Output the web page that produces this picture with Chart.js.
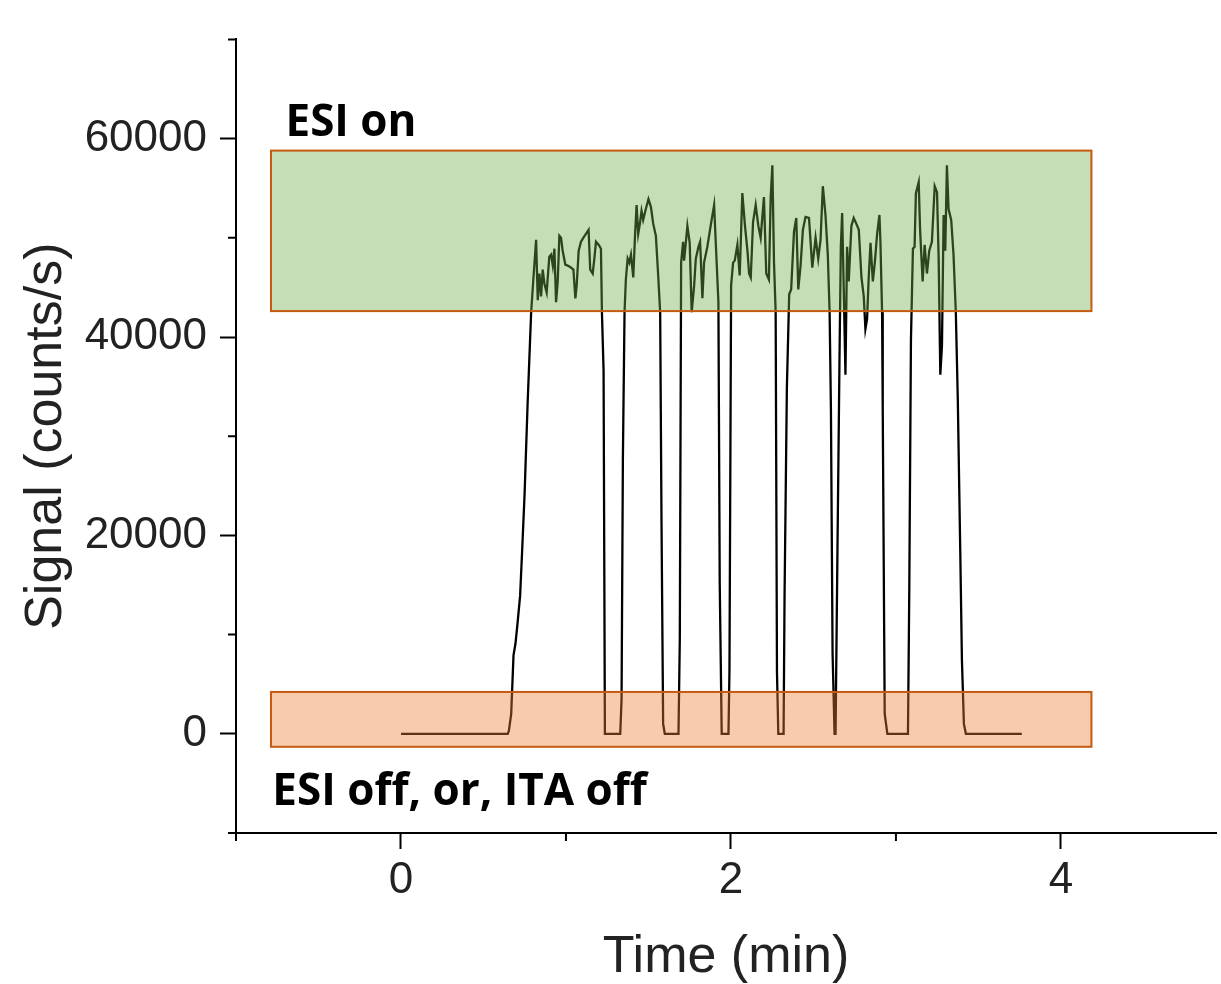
<!DOCTYPE html>
<html>
<head>
<meta charset="utf-8">
<script src="https://cdn.jsdelivr.net/npm/chart.js@4"></script>
<style>
  body { margin: 0; background: #fff; }
  #wrap { width: 1221px; height: 984px; }
</style>
</head>
<body>
<div id="wrap"><canvas id="chart"></canvas></div>
<script>
// signal trace (time in min, counts/s)
const timeMin = [
  0.000, 0.647, 0.654, 0.668, 0.682, 0.694, 0.708, 0.722, 0.734, 0.749, 0.768, 0.789, 0.803,
  0.819, 0.829, 0.839, 0.849, 0.859, 0.869, 0.883, 0.899, 0.910, 0.920, 0.930, 0.940, 0.950,
  0.960, 0.970, 0.980, 0.996, 1.010, 1.030, 1.045, 1.057, 1.065, 1.077, 1.091, 1.105, 1.121,
  1.137, 1.147, 1.162, 1.172, 1.182, 1.198, 1.212, 1.218, 1.228, 1.236, 1.329, 1.337, 1.345,
  1.355, 1.363, 1.374, 1.384, 1.394, 1.408, 1.418, 1.428, 1.438, 1.448, 1.458, 1.468, 1.484,
  1.500, 1.515, 1.529, 1.545, 1.559, 1.571, 1.579, 1.589, 1.599, 1.682, 1.690, 1.698, 1.710,
  1.716, 1.736, 1.750, 1.762, 1.777, 1.787, 1.803, 1.813, 1.827, 1.837, 1.857, 1.877, 1.898,
  1.908, 1.924, 1.932, 1.944, 1.985, 1.991, 2.001, 2.013, 2.023, 2.039, 2.053, 2.069, 2.085,
  2.100, 2.110, 2.120, 2.134, 2.150, 2.166, 2.180, 2.200, 2.214, 2.230, 2.241, 2.251, 2.261,
  2.271, 2.279, 2.287, 2.319, 2.325, 2.339, 2.353, 2.365, 2.382, 2.396, 2.408, 2.422, 2.436,
  2.452, 2.473, 2.493, 2.513, 2.529, 2.543, 2.557, 2.573, 2.587, 2.598, 2.606, 2.616, 2.628,
  2.634, 2.646, 2.658, 2.666, 2.674, 2.684, 2.694, 2.704, 2.714, 2.730, 2.744, 2.755, 2.775,
  2.791, 2.805, 2.815, 2.825, 2.835, 2.846, 2.860, 2.872, 2.886, 2.900, 2.906, 2.916, 2.920,
  2.932, 2.948, 3.073, 3.081, 3.091, 3.103, 3.113, 3.121, 3.138, 3.146, 3.152, 3.162, 3.174,
  3.188, 3.202, 3.218, 3.235, 3.249, 3.259, 3.269, 3.279, 3.289, 3.299, 3.309, 3.319, 3.335,
  3.349, 3.363, 3.375, 3.390, 3.400, 3.412, 3.424, 3.763
];
const signal = [
  0, 0, 300, 2000, 7900, 9100, 11400, 13900, 18300, 24100, 33500, 42500, 46000,
  49800, 43700, 46400, 44100, 46800, 45400, 44500, 48100, 48300, 47200, 48900, 43500, 45600,
  50200, 50000, 48700, 47300, 47200, 47000, 46800, 43900, 45200, 48700, 49600, 50000, 50400,
  50800, 46800, 46400, 47900, 49600, 49300, 48900, 42500, 36600, 0, 0, 3500, 27700,
  42500, 45800, 47900, 47500, 48300, 46000, 50000, 53300, 50400, 51400, 52700, 51800, 52900,
  53900, 53100, 51400, 50200, 46200, 42500, 21600, 1000, 0, 0, 9500, 47500, 49600,
  47700, 51200, 49500, 42500, 45200, 47900, 49100, 49600, 43900, 47500, 49100, 51200, 53300,
  49500, 43500, 15100, 0, 0, 6400, 45200, 47500, 47700, 49300, 46200, 54500, 51200,
  48700, 46400, 46000, 51600, 53300, 51200, 50000, 54100, 46400, 45800, 54100, 57300, 47500,
  42500, 6200, 0, 0, 14100, 34900, 44300, 44800, 50600, 52000, 44800, 47200, 50800,
  52100, 52000, 47000, 50000, 47900, 49800, 55200, 52300, 48300, 42500, 32700, 8100, 0,
  0, 19100, 37900, 49100, 52500, 44700, 36200, 49100, 45600, 51200, 52000, 51600, 50800,
  46000, 44100, 40800, 41800, 46000, 49500, 45600, 47500, 50400, 52300, 49600, 42500, 32700,
  2000, 0, 0, 14700, 39700, 48900, 49100, 54500, 55600, 51000, 48900, 45600, 49300,
  46400, 48700, 49600, 55200, 54600, 47900, 36200, 39100, 52300, 48700, 57300, 52900, 51800,
  48300, 42500, 33700, 18300, 7400, 1000, 0, 0
];

// shaded bands (data units)
const bandTime = [-0.788, 4.185];
const onBand = [42610, 58790];
const offBand = [-1310, 4220];
const onLabel = { text: 'ESI on', x: -0.70, y: 60300 };
const offLabel = { text: 'ESI off, or, ITA off', x: -0.78, y: -7140 };

const axisFont = '"Liberation Sans", Arial, sans-serif';

const bandsPlugin = {
  id: 'bands',
  afterDatasetsDraw(chart) {
    const { ctx, scales: { x, y } } = chart;
    const box = (yr, fill) => {
      const x0 = x.getPixelForValue(bandTime[0]);
      const x1 = x.getPixelForValue(bandTime[1]);
      const y0 = y.getPixelForValue(yr[1]);
      const y1 = y.getPixelForValue(yr[0]);
      ctx.fillStyle = fill;
      ctx.fillRect(x0, y0, x1 - x0, y1 - y0);
      ctx.strokeStyle = '#c55a11';
      ctx.lineWidth = 2;
      ctx.strokeRect(x0, y0, x1 - x0, y1 - y0);
    };
    ctx.save();
    box(onBand, 'rgba(112,173,71,0.4)');
    box(offBand, 'rgba(237,125,49,0.4)');
    ctx.fillStyle = '#000';
    ctx.font = 'bold 44px "Open Sans", sans-serif';
    ctx.textBaseline = 'alphabetic';
    ctx.textAlign = 'left';
    for (const l of [onLabel, offLabel]) {
      ctx.fillText(l.text, x.getPixelForValue(l.x), y.getPixelForValue(l.y));
    }
    ctx.restore();
  },
  afterDraw(chart) {
    // minor ticks
    const { ctx, scales: { x, y } } = chart;
    ctx.save();
    ctx.strokeStyle = '#000';
    ctx.lineWidth = 2;
    ctx.beginPath();
    x.ticks.forEach(t => {
      if (Number.isInteger(t.value) && t.value % 2 !== 0) {
        const px = x.getPixelForValue(t.value);
        ctx.moveTo(px, x.top);
        ctx.lineTo(px, x.top + 8);
      }
    });
    y.ticks.forEach(t => {
      if (t.value % 20000 !== 0) {
        const py = y.getPixelForValue(t.value);
        ctx.moveTo(y.right, py);
        ctx.lineTo(y.right - 8, py);
      }
    });
    ctx.stroke();
    ctx.restore();
  }
};

new Chart(document.getElementById('chart'), {
  type: 'scatter',
  data: {
    datasets: [{
      data: timeMin.map((t, i) => ({ x: t, y: signal[i] })),
      showLine: true,
      borderColor: '#000',
      borderWidth: 2.3,
      pointRadius: 0,
      tension: 0
    }]
  },
  options: {
    responsive: true,
    maintainAspectRatio: false,
    animation: false,
    layout: { padding: { left: 0, right: 3, top: 37, bottom: 0 } },
    plugins: { legend: { display: false }, tooltip: { enabled: false } },
    scales: {
      x: {
        type: 'linear',
        min: -1,
        max: 4.94,
        afterFit: (s) => { s.height = 151; },
        border: { display: true, color: '#000', width: 2 },
        grid: {
          drawOnChartArea: false,
          tickLength: 16,
          tickWidth: 2,
          tickColor: (c) => (c.tick && Number.isInteger(c.tick.value) && c.tick.value % 2 === 0) ? '#000' : 'rgba(0,0,0,0)'
        },
        ticks: {
          stepSize: 1,
          autoSkip: false,
          maxRotation: 0,
          padding: 5,
          color: '#222',
          font: { family: axisFont, size: 44 },
          callback: (v) => (Number.isInteger(v) && v % 2 === 0) ? String(v) : ''
        },
        title: {
          display: true,
          text: 'Time (min)',
          color: '#222',
          font: { family: axisFont, size: 52 },
          padding: { top: 0, bottom: -5 }
        }
      },
      y: {
        min: -10000,
        max: 70000,
        afterFit: (s) => { s.width = 236; },
        border: { display: true, color: '#000', width: 2 },
        grid: {
          drawOnChartArea: false,
          tickLength: 16,
          tickWidth: 2,
          tickColor: (c) => (c.tick && c.tick.value % 20000 === 0) ? '#000' : 'rgba(0,0,0,0)'
        },
        ticks: {
          stepSize: 10000,
          autoSkip: false,
          padding: 13,
          color: '#222',
          font: { family: axisFont, size: 44 },
          callback: (v) => v % 20000 === 0 ? String(v) : ''
        },
        title: {
          display: true,
          text: 'Signal (counts/s)',
          color: '#222',
          font: { family: axisFont, size: 52 },
          padding: { top: 15, bottom: 0 }
        }
      }
    }
  },
  plugins: [bandsPlugin]
});
</script>
</body>
</html>
